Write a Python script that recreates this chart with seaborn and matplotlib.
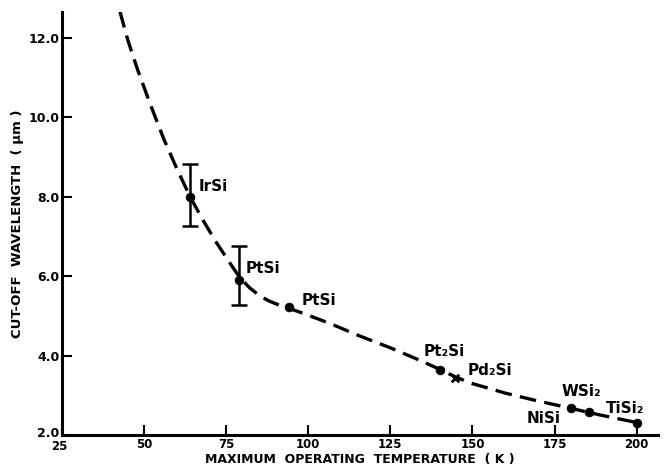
import numpy as np
import pandas as pd
import matplotlib
matplotlib.use('Agg')
import matplotlib.pyplot as plt
import matplotlib.transforms as mtransforms
import seaborn as sns

# ---- data ----
# dashed trend curve
curve_T = [42.6, 45, 48, 52, 56, 60, 64, 68, 72, 76, 79, 82, 85, 88, 91, 94, 100,
           107, 115, 125, 133, 140, 145, 150, 160, 170, 180, 185, 190, 200]
curve_lam = [12.67, 11.95, 11.2, 10.3, 9.45, 8.7, 8.0, 7.4, 6.85, 6.35, 5.98, 5.72,
             5.52, 5.38, 5.28, 5.2, 5.02, 4.8, 4.52, 4.2, 3.92, 3.66, 3.46, 3.3,
             3.06, 2.86, 2.68, 2.58, 2.49, 2.32]

# measured silicides (filled dots)
dot_names = ['IrSi', 'PtSi', 'PtSi', 'Pt₂Si', 'NiSi', 'WSi₂', 'TiSi₂']
dot_T = [64, 79, 94, 140, 180, 185.5, 200]
dot_lam = [8.0, 5.92, 5.22, 3.64, 2.68, 2.58, 2.32]

# Pd2Si (cross marker)
cross_T = [144.8]
cross_lam = [3.43]

# error bars
err_T = [64, 79]
err_lam = [8.0, 5.92]
err_lo = [7.27, 5.29]
err_hi = [8.82, 6.76]

# TiSi2 stem down to the axis
stem_T = [200]
stem_lo = [2.0]
stem_hi = [2.32]

# label positions
lab_text = ['IrSi', 'PtSi', 'PtSi', 'Pt₂Si', 'Pd₂Si', 'NiSi', 'WSi₂', 'TiSi₂']
lab_T = [66.5, 81, 98, 135, 148.5, 166.5, 177, 190.5]
lab_lam = [8.25, 6.2, 5.4, 4.12, 3.62, 2.42, 3.1, 2.68]

x_ticks = [25, 50, 75, 100, 125, 150, 175, 200]
y_ticks = [2.0, 4.0, 6.0, 8.0, 10.0, 12.0]

sns.set_style("ticks")
plt.rcParams['font.family'] = ['DejaVu Sans']
plt.rcParams['font.weight'] = 'bold'
for key in ['text.color', 'axes.labelcolor', 'xtick.color', 'ytick.color', 'axes.edgecolor']:
    plt.rcParams[key] = 'black'

fig = plt.figure(figsize=(6.68, 4.69), dpi=100)
ax = fig.add_axes([0.093, 0.072, 0.892, 0.902])

curve_df = pd.DataFrame({'T': curve_T, 'lam': curve_lam})
sns.lineplot(data=curve_df, x='T', y='lam', sort=False, ax=ax, color='black',
             linewidth=2.4, estimator=None)
ax.lines[-1].set_dashes([5, 2.5])

dot_df = pd.DataFrame({'T': dot_T, 'lam': dot_lam})
sns.scatterplot(data=dot_df, x='T', y='lam', ax=ax, color='black', s=40,
                edgecolor='black', zorder=5)
ax.scatter(cross_T, cross_lam, marker='x', color='black', s=30, linewidths=2, zorder=5)

err = np.array([np.array(err_lam) - np.array(err_lo), np.array(err_hi) - np.array(err_lam)])
ax.errorbar(err_T, err_lam, yerr=err, fmt='none', ecolor='black', elinewidth=1.8,
            capsize=6, capthick=1.8, zorder=4)
ax.vlines(stem_T, stem_lo, stem_hi, color='black', linewidth=1.5)

for t, x, y in zip(lab_text, lab_T, lab_lam):
    ax.text(x, y, t, fontsize=11, fontweight='bold', va='center', ha='left')

ax.set_xlim(25, 206.5)
ax.set_ylim(2.0, 12.65)
ax.set_xticks(x_ticks)
ax.set_yticks(y_ticks)
ax.set_xticklabels([str(v) for v in x_ticks], fontsize=8.5, fontweight='bold')
ax.set_yticklabels([f'{v:.1f}' for v in y_ticks], fontsize=9, fontweight='bold')
ax.tick_params(axis='both', direction='in', length=7, width=1.5, pad=2)
ax.tick_params(axis='x', pad=2)
ax.set_xlabel('MAXIMUM  OPERATING  TEMPERATURE  ( K )', fontsize=9,
              fontweight='bold', labelpad=0)
ax.set_ylabel('CUT-OFF  WAVELENGTH  ( μm )', fontsize=9.5, fontweight='bold',
              labelpad=3)
sns.despine(ax=ax)
for side in ['left', 'bottom']:
    ax.spines[side].set_linewidth(2.2)

# corner labels "2.0" and "25" nearly touch; nudge them apart a little
lbl = ax.get_yticklabels()[0]
lbl.set_transform(lbl.get_transform() +
                  mtransforms.ScaledTranslation(0, 2.5 / 72, fig.dpi_scale_trans))
lbl = ax.get_xticklabels()[0]
lbl.set_transform(lbl.get_transform() +
                  mtransforms.ScaledTranslation(-2 / 72, -1.5 / 72, fig.dpi_scale_trans))

fig.savefig('out.png', dpi=100)
